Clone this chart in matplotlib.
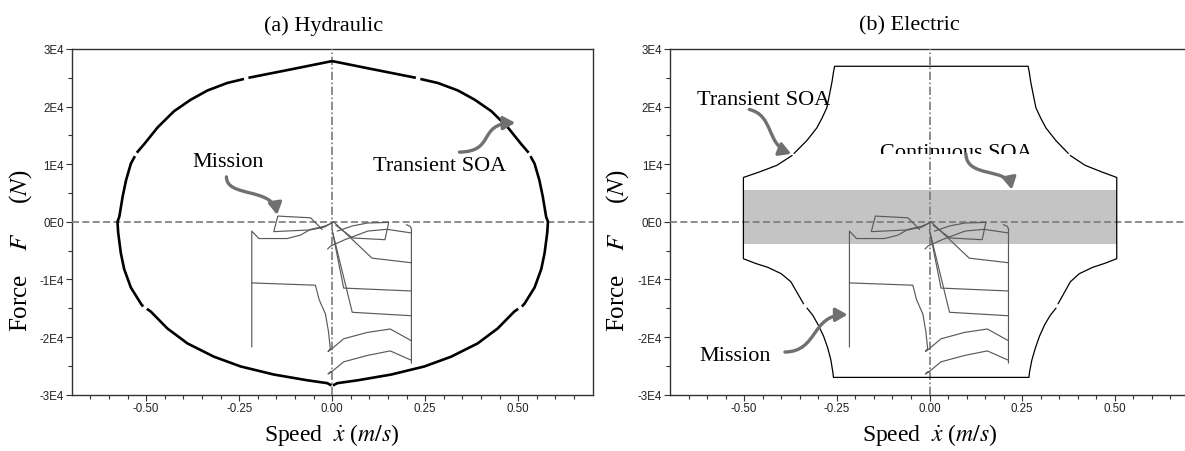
import matplotlib
matplotlib.use('Agg')
import matplotlib.pyplot as plt
from matplotlib.path import Path
from matplotlib.patches import FancyArrowPatch, Rectangle
from matplotlib.transforms import Bbox, TransformedBbox

plt.rcParams['mathtext.fontset'] = 'stix'

# ---- data (speed m/s, force in units of 1E4 N) ----
# hydraulic transient SOA, drawn as separate pieces (small gaps in the original)
hyd_soa = [
    ([0.0, -0.10, -0.225], [2.79, 2.66, 2.50]),
    ([-0.237, -0.282, -0.335, -0.380, -0.425, -0.469, -0.505, -0.525],
     [2.48, 2.41, 2.28, 2.12, 1.92, 1.64, 1.35, 1.20]),
    ([-0.530, -0.541, -0.554, -0.563, -0.572, -0.577, -0.575, -0.568, -0.559, -0.541, -0.514, -0.508],
     [1.14, 1.01, 0.72, 0.44, 0.09, 0.0, -0.19, -0.54, -0.82, -1.14, -1.42, -1.47]),
    ([-0.498, -0.487, -0.443, -0.389, -0.318, -0.246, -0.157, -0.067, -0.013, -0.002],
     [-1.51, -1.56, -1.85, -2.11, -2.34, -2.51, -2.65, -2.75, -2.80, -2.84]),
    ([0.0, 0.10, 0.225], [2.79, 2.66, 2.50]),
    ([0.237, 0.284, 0.338, 0.383, 0.428, 0.472, 0.508, 0.528],
     [2.48, 2.41, 2.28, 2.12, 1.92, 1.64, 1.35, 1.20]),
    ([0.533, 0.544, 0.557, 0.566, 0.575, 0.580, 0.578, 0.571, 0.562, 0.544, 0.517, 0.510],
     [1.14, 1.01, 0.72, 0.44, 0.09, 0.0, -0.19, -0.54, -0.82, -1.14, -1.42, -1.47]),
    ([0.500, 0.489, 0.445, 0.391, 0.320, 0.248, 0.159, 0.069, 0.014, 0.002],
     [-1.51, -1.56, -1.85, -2.11, -2.34, -2.51, -2.65, -2.75, -2.80, -2.84]),
]

# electric transient SOA
ele_soa = [
    ([-0.365, -0.331, -0.304, -0.290, -0.277, -0.270, -0.263, -0.259, -0.256,
      0.266, 0.269, 0.273, 0.280, 0.287, 0.300, 0.314, 0.341, 0.374],
     [1.19, 1.41, 1.63, 1.80, 1.98, 2.20, 2.43, 2.60, 2.70,
      2.70, 2.60, 2.43, 2.20, 1.98, 1.80, 1.63, 1.41, 1.19]),
    ([-0.371, -0.412, -0.457, -0.502, -0.502, -0.470, -0.436, -0.400, -0.374, -0.340],
     [1.15, 0.98, 0.87, 0.77, -0.64, -0.72, -0.79, -0.90, -1.04, -1.42]),
    ([0.380, 0.420, 0.463, 0.505, 0.505, 0.473, 0.440, 0.404, 0.380, 0.347],
     [1.15, 0.98, 0.87, 0.77, -0.64, -0.72, -0.79, -0.90, -1.04, -1.42]),
    ([-0.330, -0.315, -0.301, -0.286, -0.275, -0.266, -0.261, -0.259,
      0.268, 0.270, 0.276, 0.286, 0.297, 0.311, 0.326, 0.341],
     [-1.50, -1.62, -1.78, -1.98, -2.18, -2.40, -2.60, -2.70,
      -2.70, -2.60, -2.40, -2.18, -1.98, -1.78, -1.62, -1.50]),
]

# continuous SOA band of the electric actuator
cont_x = [-0.503, 0.505]
cont_y = [-0.386, 0.553]

# mission profile (same in both panels)
mission = [
    ([-0.216, -0.216, -0.197, -0.121, -0.085, -0.058, -0.023, 0.0],
     [-2.17, -0.16, -0.29, -0.29, -0.23, -0.13, -0.08, -0.02]),
    ([-0.027, -0.058, -0.146, -0.157, -0.058, -0.020, 0.004],
     [-0.13, 0.07, 0.10, -0.17, -0.14, -0.09, 0.0]),
    ([-0.216, -0.045, -0.035, -0.018, -0.010, -0.005, -0.011, -0.004, 0.031, 0.094, 0.156, 0.212],
     [-1.06, -1.10, -1.35, -1.60, -1.90, -2.20, -2.25, -2.22, -2.03, -1.92, -1.86, -2.06]),
    ([-0.004, -0.011, -0.003, 0.031, 0.094, 0.156, 0.212],
     [-2.60, -2.64, -2.61, -2.43, -2.32, -2.24, -2.40]),
    ([0.200, 0.210, 0.213, 0.213],
     [-0.05, -0.08, -0.12, -2.45]),
    ([0.004, 0.107, 0.213], [0.0, -0.63, -0.71]),
    ([0.0, 0.031, 0.213], [-0.14, -1.15, -1.20]),
    ([0.002, 0.054, 0.213], [-0.20, -1.57, -1.63]),
    ([-0.012, -0.004, 0.034, 0.096, 0.147, 0.210], [-0.47, -0.42, -0.31, -0.16, -0.13, -0.19]),
    ([0.014, 0.055, 0.096, 0.152, 0.142, 0.055, 0.010], [-0.16, -0.07, -0.02, -0.01, -0.31, -0.28, -0.06]),
]

xticks = [-0.50, -0.25, 0.00, 0.25, 0.50]
xticklabels = ['-0.50', '-0.25', '0.00', '0.25', '0.50']
yticks = [3, 2, 1, 0, -1, -2, -3]
yticklabels = ['3E4', '2E4', '1E4', '0E0', '-1E4', '-2E4', '-3E4']

serif = 'Liberation Serif'
gray_line = '#5a5a5a'
arrow_col = '#707070'

fig = plt.figure(figsize=(11.85, 4.52), dpi=100)
ax1 = fig.add_axes([0.0605, 0.1246, 0.4396, 0.7648])
ax2 = fig.add_axes([0.5654, 0.1246, 0.4380, 0.7648])


def setup(ax, label_x):
    ax.set_xlim(-0.7, 0.7)
    ax.set_ylim(-3, 3)
    ax.set_xticks(xticks)
    ax.set_xticklabels(xticklabels)
    ax.set_xticks([i * 0.05 - 0.65 for i in range(27)], minor=True)
    ax.set_yticks(yticks)
    ax.set_yticklabels(yticklabels)
    ax.set_yticks([-2.5, -1.5, -0.5, 0.5, 1.5, 2.5], minor=True)
    ax.tick_params(which='both', direction='out', color='#333333', width=0.8,
                   labelsize=8.3, labelcolor='#222222', pad=1.5)
    ax.tick_params(which='major', length=4)
    ax.tick_params(which='minor', length=3)
    for lab in ax.get_xticklabels() + ax.get_yticklabels():
        lab.set_family('Liberation Sans')
    for s in ax.spines.values():
        s.set_color('#333333')
        s.set_linewidth(1.0)
    ax.axhline(0, color='#7a7a7a', lw=1.2, ls=(0, (4.2, 2)), zorder=3)
    ax.axvline(0, color='#7a7a7a', lw=1.2, ls=(0, (5, 1.5, 1, 1.5)), zorder=3)
    for xs, ys in mission:
        ax.plot(xs, ys, color=gray_line, lw=0.85, zorder=4)
    ax.set_ylabel('Force    $F$     ($N$)', family=serif, fontsize=18)
    ax.yaxis.set_label_coords(label_x, 0.42)
    ax.set_xlabel('Speed  $\\dot{x}$ ($m/s$)', family=serif, fontsize=17, labelpad=5)


def curved_arrow(ax, pts):
    codes = [Path.MOVETO, Path.CURVE4, Path.CURVE4, Path.CURVE4]
    arr = FancyArrowPatch(path=Path(pts, codes),
                          arrowstyle='-|>,head_length=7,head_width=4',
                          color=arrow_col, lw=2.4, zorder=6)
    ax.add_patch(arr)


setup(ax1, -0.072)
setup(ax2, -0.076)

# hydraulic panel
for xs, ys in hyd_soa:
    ax1.plot(xs, ys, color='black', lw=1.9, zorder=5, solid_capstyle='butt')
ax1.text(-0.28, 1.04, 'Mission', family=serif, fontsize=16, ha='center', va='center')
ax1.text(0.288, 0.97, 'Transient SOA', family=serif, fontsize=16, ha='center', va='center')
curved_arrow(ax1, [(-0.284, 0.78), (-0.285, 0.42), (-0.16, 0.60), (-0.148, 0.12)])
curved_arrow(ax1, [(0.342, 1.21), (0.44, 1.22), (0.39, 1.70), (0.492, 1.72)])

# electric panel
ax2.add_patch(Rectangle((cont_x[0], cont_y[0]), cont_x[1] - cont_x[0], cont_y[1] - cont_y[0],
                        facecolor='#c4c4c4', edgecolor='none', zorder=1))
for xs, ys in ele_soa:
    ax2.plot(xs, ys, color='black', lw=0.9, zorder=5)
ax2.text(-0.447, 2.12, 'Transient SOA', family=serif, fontsize=16, ha='center', va='center')
t = ax2.text(0.071, 1.12, 'Continuous SOA', family=serif, fontsize=16, ha='center', va='baseline')
t.set_clip_box(TransformedBbox(Bbox([[-0.7, 1.18], [0.7, 3.0]]), ax2.transData))
t.set_clip_on(True)
ax2.text(-0.524, -2.32, 'Mission', family=serif, fontsize=16, ha='center', va='center')
curved_arrow(ax2, [(-0.486, 1.95), (-0.42, 1.85), (-0.44, 1.35), (-0.373, 1.18)])
curved_arrow(ax2, [(0.098, 1.18), (0.10, 0.75), (0.21, 0.95), (0.222, 0.56)])
curved_arrow(ax2, [(-0.39, -2.26), (-0.30, -2.25), (-0.32, -1.62), (-0.221, -1.61)])

fig.text(324 / 1185, 1 - 26 / 452, '(a) Hydraulic', family=serif, fontsize=16, ha='center', va='center')
fig.text(909 / 1185, 1 - 26 / 452, '(b) Electric', family=serif, fontsize=16, ha='center', va='center')

fig.savefig('out.png', dpi=100)
